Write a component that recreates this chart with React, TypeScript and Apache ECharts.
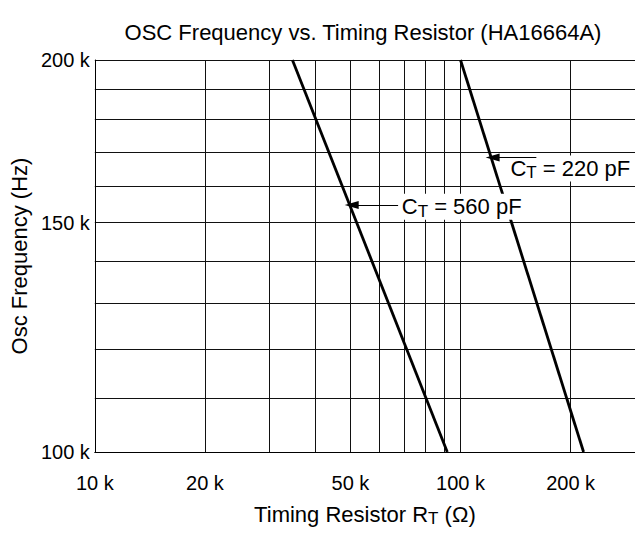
import React, { useEffect, useRef } from 'react';
import * as echarts from 'echarts';

const FONT = '"Liberation Sans", Arial, Helvetica, sans-serif';

// Axis grid / tick values
const xGridValues = [10000, 20000, 30000, 40000, 50000, 60000, 70000, 80000, 90000, 100000, 200000];
const xLabelValues = [10000, 20000, 50000, 100000, 200000];
const yGridValues = [100000, 110000, 120000, 130000, 140000, 150000, 160000, 170000, 180000, 190000, 200000];
const yLabelValues = [100000, 150000, 200000];

// Series: C_T = 560 pF  (R in ohms, f in Hz)
const ct560R = [34700, 92000];
const ct560F = [200000, 100000];
// Series: C_T = 220 pF
const ct220R = [100000, 217000];
const ct220F = [200000, 100000];

// Annotation anchors (data space): [R, f]
const ann560Tail = [67500, 154800];
const ann560Tip = [50400, 154800];
const ann560Text = [68000, 154300];
const ann220Tail = [161200, 168300];
const ann220Tip = [122400, 168300];
const ann220Text = [134800, 165100];

const rich = {
  n: { fontSize: 22, lineHeight: 26, color: '#000', fontFamily: FONT },
  s: { fontSize: 17, lineHeight: 12, verticalAlign: 'bottom', color: '#000', fontFamily: FONT },
};

const arrowPath = 'path://M5,0 L10,20 L0,20 Z';

function annotation(tail: number[], tip: number[], text: number[], label: string) {
  return {
    markLine: {
      silent: true,
      animation: false,
      z: 6,
      symbol: ['none', arrowPath],
      symbolSize: [0, [8, 14]],
      label: { show: false },
      lineStyle: { type: 'solid', color: '#000', width: 1 },
      data: [[{ coord: tail, symbol: 'none' }, { coord: tip, symbol: arrowPath, symbolSize: [8, 14] }]],
    },
    markPoint: {
      silent: true,
      animation: false,
      z: 5,
      symbol: 'circle',
      symbolSize: 1,
      itemStyle: { color: 'rgba(0,0,0,0)' },
      label: {
        show: true,
        position: 'right',
        distance: 0,
        formatter: label,
        backgroundColor: '#fff',
        padding: [0, 2, 0, 2],
        rich,
      },
      data: [{ coord: text }],
    },
  };
}

const kFmt = (v: number) => Math.round(v / 1000) + ' k';

export default function App() {
  const ref = useRef<HTMLDivElement>(null);
  useEffect(() => {
    document.body.style.margin = '0';
    if (!ref.current) return;
    const chart = echarts.init(ref.current, null, { renderer: 'svg' });
    const option: any = {
      animation: false,
      title: {
        text: 'OSC Frequency vs. Timing Resistor (HA16664A)',
        left: 358,
        top: 16,
        textAlign: 'center',
        textStyle: { fontSize: 22, fontWeight: 'normal', color: '#000', fontFamily: FONT },
      },
      grid: { left: 90, top: 60, width: 546, height: 392 },
      xAxis: {
        type: 'log',
        logBase: 10,
        min: 10000,
        max: 300000,
        axisLine: { show: true, lineStyle: { color: '#000', width: 1 } },
        axisTick: { show: false, customValues: xGridValues },
        axisLabel: {
          customValues: xLabelValues,
          formatter: kFmt,
          fontSize: 20,
          color: '#000',
          fontFamily: FONT,
          margin: 21,
        },
        splitLine: { show: true, lineStyle: { color: '#111', width: 1 } },
        minorTick: { show: false },
        minorSplitLine: { show: false },
        name: 'Timing Resistor R{s|T} (Ω)',
        nameLocation: 'middle',
        nameGap: 49,
        nameTextStyle: {
          fontSize: 22,
          lineHeight: 26,
          color: '#000',
          fontFamily: FONT,
          rich: {
            s: { fontSize: 17, lineHeight: 12, verticalAlign: 'bottom', color: '#000', fontFamily: FONT },
          },
        },
      },
      yAxis: {
        type: 'log',
        logBase: 10,
        min: 100000,
        max: 200000,
        axisLine: { show: true, lineStyle: { color: '#000', width: 1 } },
        axisTick: { show: false, customValues: yGridValues },
        axisLabel: {
          customValues: yLabelValues,
          formatter: kFmt,
          fontSize: 20,
          color: '#000',
          fontFamily: FONT,
          margin: 5,
        },
        splitLine: { show: true, lineStyle: { color: '#111', width: 1 } },
        minorTick: { show: false },
        minorSplitLine: { show: false },
        name: 'Osc Frequency (Hz)',
        nameLocation: 'middle',
        nameGap: 57,
        nameTextStyle: { fontSize: 22, color: '#000', fontFamily: FONT },
      },
      series: [
        {
          type: 'line',
          name: 'CT = 560 pF',
          data: ct560R.map((r, i) => [r, ct560F[i]]),
          symbol: 'none',
          lineStyle: { color: '#000', width: 2.8 },
          ...annotation(ann560Tail, ann560Tip, ann560Text, '{n|C}{s|T}{n| = 560 pF}'),
        },
        {
          type: 'line',
          name: 'CT = 220 pF',
          data: ct220R.map((r, i) => [r, ct220F[i]]),
          symbol: 'none',
          lineStyle: { color: '#000', width: 2.8 },
          ...annotation(ann220Tail, ann220Tip, ann220Text, '{n|C}{s|T}{n| = 220 pF}'),
        },
      ],
    };
    chart.setOption(option);
    return () => chart.dispose();
  }, []);
  return <div ref={ref} style={{ width: 635, height: 533 }} />;
}
